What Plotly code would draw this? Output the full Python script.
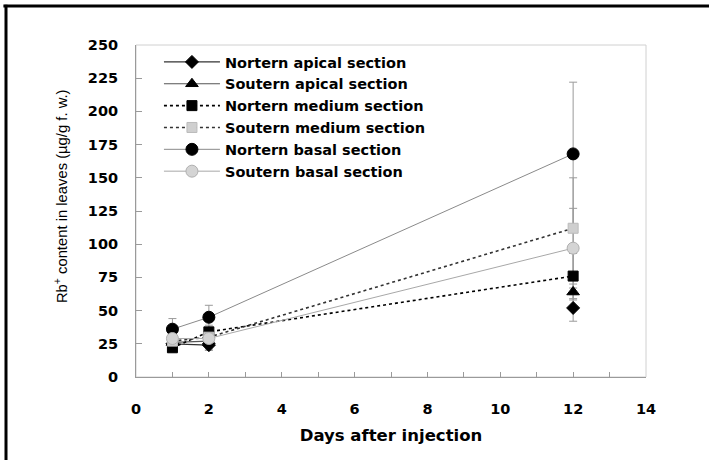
import plotly.graph_objects as go

days = [1, 2, 12]

series_names = [
    "Nortern apical section",
    "Soutern apical section",
    "Nortern medium section",
    "Soutern medium section",
    "Nortern basal section",
    "Soutern basal section",
]
nortern_apical = [25, 24, 52]
soutern_apical = [26, 27, 64]
nortern_medium = [22, 34, 76]
soutern_medium = [27, 30, 112]
nortern_basal = [36, 45, 168]
soutern_basal = [29, 29, 97]

err_nortern_apical = [4, 4, 10]
err_soutern_apical = [4, 4, 6]
err_nortern_medium = [3, 5, 17]
err_soutern_medium = [5, 5, 38]
err_nortern_basal = [8, 9, 54]
err_soutern_basal = [5, 8, 30]

x_ticks = [0, 2, 4, 6, 8, 10, 12, 14]
y_ticks = [0, 25, 50, 75, 100, 125, 150, 175, 200, 225, 250]

BOLD = "DejaVu Sans, sans-serif"
REG = "Liberation Sans, Arial, sans-serif"

styles = [
    dict(symbol="diamond", size=10, color="#000000", line_color="#333333", dash="solid", line_width=1.2, mline=None),
    dict(symbol="triangle-up", size=11, color="#000000", line_color="#555555", dash="solid", line_width=1.2, mline=None),
    dict(symbol="square", size=10, color="#000000", line_color="#000000", dash="3px,3px", line_width=1.6, mline=None),
    dict(symbol="square", size=10, color="#cfcfcf", line_color="#333333", dash="3px,3px", line_width=1.6, mline="#bbbbbb"),
    dict(symbol="circle", size=12, color="#000000", line_color="#8a8a8a", dash="solid", line_width=1.0, mline=None),
    dict(symbol="circle", size=12, color="#d4d4d4", line_color="#a8a8a8", dash="solid", line_width=1.0, mline="#b0b0b0"),
]
values = [nortern_apical, soutern_apical, nortern_medium, soutern_medium, nortern_basal, soutern_basal]
errors = [err_nortern_apical, err_soutern_apical, err_nortern_medium, err_soutern_medium, err_nortern_basal, err_soutern_basal]

fig = go.Figure()

# error bars first (beneath markers)
for name, vals, errs in zip(series_names, values, errors):
    fig.add_trace(go.Scatter(
        x=days, y=vals, mode="markers", showlegend=False, hoverinfo="skip",
        marker=dict(size=1, color="rgba(0,0,0,0)"),
        error_y=dict(type="data", array=errs, visible=True, color="#9a9a9a", thickness=1, width=4),
    ))

for i, (name, vals, st) in enumerate(zip(series_names, values, styles)):
    marker = dict(symbol=st["symbol"], size=st["size"], color=st["color"],
                  line=dict(color=st["mline"] or st["color"], width=1))
    line = dict(color=st["line_color"], width=st["line_width"], dash=st["dash"])
    if i < 2:
        # apical sections: line only between the first two days
        fig.add_trace(go.Scatter(x=days[:2], y=vals[:2], mode="lines+markers", name=name,
                                 marker=marker, line=line, legendrank=i + 1))
        fig.add_trace(go.Scatter(x=days[2:], y=vals[2:], mode="markers", showlegend=False,
                                 marker=marker))
    else:
        fig.add_trace(go.Scatter(x=days, y=vals, mode="lines+markers", name=name,
                                 marker=marker, line=line, legendrank=i + 1))

# plot box (light gray) and outer black frame
fig.add_shape(type="rect", xref="paper", yref="paper", x0=0, y0=0, x1=1, y1=1,
              line=dict(color="#d0d0d0", width=1), layer="below")
fig.add_shape(type="line", xref="paper", yref="paper", x0=-0.26, x1=1.25, y0=1.1175, y1=1.1175,
              line=dict(color="#000000", width=3))
fig.add_shape(type="line", xref="paper", yref="paper", x0=-0.2549, x1=-0.2549, y0=1.1215, y1=-0.3,
              line=dict(color="#000000", width=3))

fig.add_annotation(text="Rb<sup>+</sup> content in leaves (µg/g f. w.)", xref="paper", yref="paper",
                   x=-0.147, y=0.545, xanchor="center", yanchor="middle", textangle=-90, showarrow=False,
                   font=dict(family=REG, size=14.8, color="#000000"))

fig.update_layout(
    width=709, height=460,
    margin=dict(l=136, r=63, t=45, b=83),
    paper_bgcolor="#ffffff", plot_bgcolor="#ffffff",
    font=dict(family=BOLD, color="#000000"),
    showlegend=True,
    legend=dict(x=0.045, y=0.997, xanchor="left", yanchor="top",
                bgcolor="rgba(255,255,255,0)", borderwidth=0,
                font=dict(size=14.5, family=BOLD, weight="bold"),
                tracegroupgap=0, itemwidth=56),
    xaxis=dict(range=[0, 14], tickvals=x_ticks, ticktext=[str(v) for v in x_ticks],
               showgrid=False, zeroline=False, showline=True, linecolor="#9a9a9a", linewidth=1,
               ticks="inside", ticklen=5, tickcolor="#9a9a9a", ticklabelstandoff=19,
               minor=dict(dtick=1, ticks="inside", ticklen=5, tickcolor="#9a9a9a"),
               tickfont=dict(size=14.5, family=BOLD, weight="bold"),
               title=dict(text="Days after injection", font=dict(size=16.5, family=BOLD, weight="bold"), standoff=13)),
    yaxis=dict(range=[0, 250], tickvals=y_ticks, ticktext=[str(v) for v in y_ticks],
               showgrid=False, zeroline=False, showline=True, linecolor="#9a9a9a", linewidth=1,
               ticks="inside", ticklen=6, tickcolor="#9a9a9a", ticklabelstandoff=14,
               tickfont=dict(size=14.5, family=BOLD, weight="bold")),
)

fig.write_html("out.html", config={"displayModeBar": False},
               post_script="document.body.style.margin='0px';")
